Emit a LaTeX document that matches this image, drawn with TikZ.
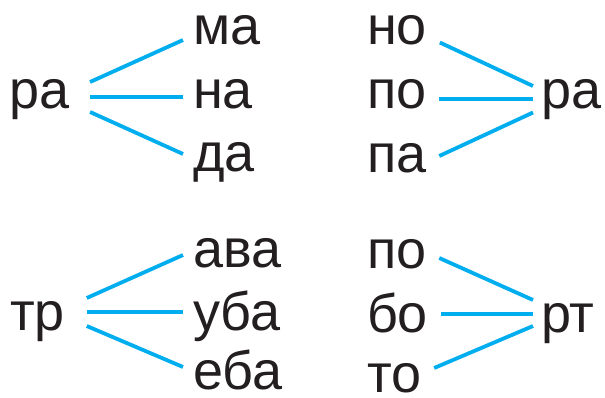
\documentclass[tikz,border=0pt]{standalone}
\usepackage{fontspec}
\setmainfont{Liberation Sans}
\usetikzlibrary{positioning}
\definecolor{linkblue}{RGB}{0,174,239}
\definecolor{inkblack}{RGB}{35,31,32}

\begin{document}
\begin{tikzpicture}[x=1bp,y=1bp,line width=3.8bp]
  \tikzstyle{word}=[inner sep=0pt,outer sep=0pt,text height=22bp,text depth=0pt,text=inkblack,font=\fontsize{54bp}{60bp}\selectfont,anchor=base west]
  \tikzstyle{link}=[draw=linkblue]
  \useasboundingbox (0,0) rectangle (605,397);

  % top left
  \node[word] (ra1) at (9,289) {ра};
  \node[word] (ma) at (193,353) {ма};
  \node[word] (na) at (193,289) {на};
  \node[word] (da) at (193,226) {да};

  % top right
  \node[word] (no) at (367,353) {но};
  \node[word] (po1) at (367,289) {по};
  \node[word] (pa) at (367,225) {па};
  \node[word] (ra2) at (541,289) {ра};

  % bottom left
  \node[word] (tr) at (10,67) {тр};
  \node[word] (ava) at (193,130) {ава};
  \node[word] (uba) at (193,67) {уба};
  \node[word] (eba) at (193,8) {еба};

  % bottom right
  \node[word] (po2) at (367,129) {по};
  \node[word] (bo) at (367,65) {бо};
  \node[word] (to) at (367,5) {то};
  \node[word] (rt) at (541,65) {рт};

  \draw[link] ([shift={(21,15)}]ra1.east) -- ([shift={(-10,-7)}]ma.west);
  \draw[link] ([shift={(21,0)}]ra1.east) -- ([shift={(-10,0)}]na.west);
  \draw[link] ([shift={(21,-15)}]ra1.east) -- ([shift={(-10,6)}]da.west);

  \draw[link] ([shift={(13,-9.5)}]no.east) -- ([shift={(-8,11)}]ra2.west);
  \draw[link] ([shift={(13,-2)}]po1.east) -- ([shift={(-8,-2)}]ra2.west);
  \draw[link] ([shift={(13,5)}]pa.east) -- ([shift={(-8,-15.5)}]ra2.west);

  \draw[link] ([shift={(22,21)}]tr.east) -- ([shift={(-10,1)}]ava.west);
  \draw[link] ([shift={(22,7)}]tr.east) -- ([shift={(-10,7)}]uba.west);
  \draw[link] ([shift={(22,-7)}]tr.east) -- ([shift={(-10,11)}]eba.west);

  \draw[link] ([shift={(13,-1)}]po2.east) -- ([shift={(-8,21)}]rt.west);
  \draw[link] ([shift={(13,7)}]bo.east) -- ([shift={(-8,7)}]rt.west);
  \draw[link] ([shift={(13,13)}]to.east) -- ([shift={(-8,-5)}]rt.west);
\end{tikzpicture}
\end{document}
